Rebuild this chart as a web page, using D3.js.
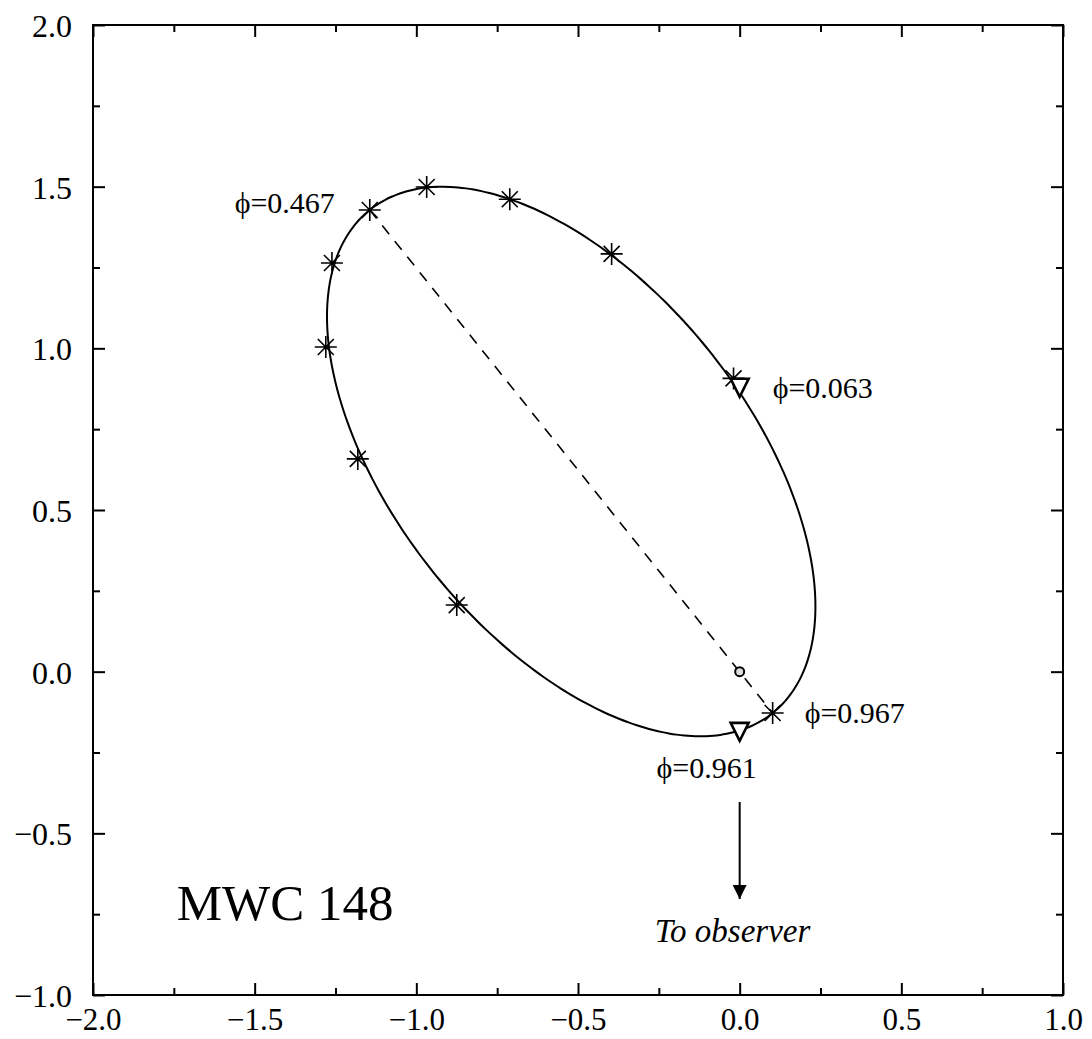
<!DOCTYPE html>
<html><head><meta charset="utf-8">
<script src="https://cdn.jsdelivr.net/npm/d3@7"></script>
<style>body{margin:0;background:#fff}svg{display:block}</style>
</head><body>
<script>
// ---- data ----
const xTickValues = [-2.0, -1.5, -1.0, -0.5, 0.0, 0.5, 1.0];
const yTickValues = [-1.0, -0.5, 0.0, 0.5, 1.0, 1.5, 2.0];
const obsX = [-1.144, -0.968, -0.711, -0.396, -0.019, -1.261, -1.280, -1.181, -0.875, 0.102];
const obsY = [1.428, 1.499, 1.461, 1.292, 0.907, 1.264, 1.004, 0.658, 0.206, -0.128];
const triX = [0.0, 0.0];
const triY = [0.881, -0.183];
const focus = [0.0, 0.0];
const apastron = [-1.144, 1.428];
const periastron = [0.102, -0.128];
const semiMinor = 0.547;
const phaseLabels = ["ϕ=0.467", "ϕ=0.063", "ϕ=0.967", "ϕ=0.961"];
const phaseLabelX = [-1.252, 0.102, 0.201, -0.257];
const phaseLabelY = [1.418, 0.847, -0.159, -0.329];
const arrowFrom = [0.0, -0.403];
const arrowTo = [0.0, -0.703];
const title = "MWC 148";
const observerText = "To observer";

// ---- chart ----
const W = 1092, H = 1039;
const x = d3.scaleLinear().domain([-2, 1]).range([93, 1063]);
const y = d3.scaleLinear().domain([-1, 2]).range([995, 25]);
const svg = d3.select("body").append("svg").attr("width", W).attr("height", H);
const font = "'Liberation Serif','Times New Roman',serif";

// frame
svg.append("rect").attr("x", x(-2)).attr("y", y(2)).attr("width", x(1) - x(-2)).attr("height", y(-1) - y(2))
  .attr("fill", "none").attr("stroke", "#000").attr("stroke-width", 2);

// ticks
const minor = d3.range(-1.75, 1, 0.5);
const minorY = d3.range(-0.75, 2, 0.5);
const fmt = v => (v < 0 ? "\u2212" : "") + Math.abs(v).toFixed(1);
const axB = d3.axisBottom(x).tickValues(xTickValues).tickSize(-12).tickFormat(fmt).tickPadding(13);
const gB = svg.append("g").attr("transform", `translate(0,${y(-1)})`).call(axB);
const axL = d3.axisLeft(y).tickValues(yTickValues).tickSize(-12).tickFormat(fmt).tickPadding(21);
const gL = svg.append("g").attr("transform", `translate(${x(-2)},0)`).call(axL);
[gB, gL].forEach(g => {
  g.select(".domain").remove();
  g.selectAll("line").attr("stroke", "#000").attr("stroke-width", 2);
  g.selectAll("text").attr("font-family", font).attr("font-size", 32).attr("fill", "#000");
});
gL.selectAll("text").attr("dy", "0.36em");
gB.selectAll("text").attr("font-size", 31).attr("dy", "0.72em");
const tickStyle = g => { g.select(".domain").remove(); g.selectAll("line").attr("stroke", "#000").attr("stroke-width", 2); };
svg.append("g").attr("transform", `translate(0,${y(-1)})`).call(d3.axisBottom(x).tickValues(minor).tickSize(-7).tickFormat("")).call(tickStyle);
svg.append("g").attr("transform", `translate(0,${y(2)})`).call(d3.axisTop(x).tickValues(xTickValues).tickSize(-12).tickFormat("")).call(tickStyle);
svg.append("g").attr("transform", `translate(0,${y(2)})`).call(d3.axisTop(x).tickValues(minor).tickSize(-7).tickFormat("")).call(tickStyle);
svg.append("g").attr("transform", `translate(${x(-2)},0)`).call(d3.axisLeft(y).tickValues(minorY).tickSize(-7).tickFormat("")).call(tickStyle);
svg.append("g").attr("transform", `translate(${x(1)},0)`).call(d3.axisRight(y).tickValues(yTickValues).tickSize(-12).tickFormat("")).call(tickStyle);
svg.append("g").attr("transform", `translate(${x(1)},0)`).call(d3.axisRight(y).tickValues(minorY).tickSize(-7).tickFormat("")).call(tickStyle);

// orbit ellipse
const cx = (apastron[0] + periastron[0]) / 2, cy = (apastron[1] + periastron[1]) / 2;
const dx = periastron[0] - apastron[0], dy = periastron[1] - apastron[1];
const a = Math.hypot(dx, dy) / 2;
const ux = dx / (2 * a), uy = dy / (2 * a), vx = -uy, vy = ux;
const ts = d3.range(0, 361, 2).map(d => d * Math.PI / 180);
const orbit = ts.map(t => [cx + a * Math.cos(t) * ux + semiMinor * Math.sin(t) * vx,
                            cy + a * Math.cos(t) * uy + semiMinor * Math.sin(t) * vy]);
svg.append("path").datum(orbit)
  .attr("d", d3.line().x(d => x(d[0])).y(d => y(d[1])).curve(d3.curveCardinalClosed))
  .attr("fill", "none").attr("stroke", "#000").attr("stroke-width", 2);

// major axis dashed
svg.append("line").attr("x1", x(apastron[0])).attr("y1", y(apastron[1]))
  .attr("x2", x(periastron[0])).attr("y2", y(periastron[1]))
  .attr("stroke", "#000").attr("stroke-width", 1.6).attr("stroke-dasharray", "11,9");

// asterisks
const r = 11, rd = 8;
const star = `M${-r},0L${r},0M0,${-r}L0,${r}M${-rd},${-rd}L${rd},${rd}M${-rd},${rd}L${rd},${-rd}`;
svg.append("g").selectAll("path").data(obsX).join("path")
  .attr("transform", (d, i) => `translate(${x(d)},${y(obsY[i])})`)
  .attr("d", star).attr("stroke", "#000").attr("stroke-width", 1.6).attr("fill", "none");

// triangles
svg.append("g").selectAll("path").data(triX).join("path")
  .attr("transform", (d, i) => `translate(${x(d)},${y(triY[i])})`)
  .attr("d", "M-9,-8L9,-8L0,10Z").attr("stroke", "#000").attr("stroke-width", 2.6).attr("fill", "#fff");

// focus
svg.append("circle").attr("cx", x(focus[0])).attr("cy", y(focus[1])).attr("r", 4.5)
  .attr("fill", "#ddd").attr("stroke", "#000").attr("stroke-width", 2);

// phase labels
svg.append("g").selectAll("text").data(phaseLabels).join("text")
  .attr("x", (d, i) => x(phaseLabelX[i])).attr("y", (d, i) => y(phaseLabelY[i]))
  .attr("text-anchor", (d, i) => i === 0 ? "end" : "start")
  .attr("font-family", font).attr("font-size", 30).text(d => d);

// arrow
svg.append("defs").append("marker").attr("id", "ah").attr("viewBox", "0 0 14 14")
  .attr("refX", 14).attr("refY", 7).attr("markerWidth", 14).attr("markerHeight", 14)
  .attr("markerUnits", "userSpaceOnUse").attr("orient", "auto")
  .append("path").attr("d", "M0,0L14,7L0,14Z").attr("fill", "#000");
svg.append("line").attr("x1", x(arrowFrom[0])).attr("y1", y(arrowFrom[1]))
  .attr("x2", x(arrowTo[0])).attr("y2", y(arrowTo[1]))
  .attr("stroke", "#000").attr("stroke-width", 2).attr("marker-end", "url(#ah)");

svg.append("text").attr("x", x(-0.022)).attr("y", y(-0.836)).attr("text-anchor", "middle")
  .attr("font-family", font).attr("font-style", "italic").attr("font-size", 33).text(observerText);

svg.append("text").attr("x", x(-1.741)).attr("y", y(-0.768))
  .attr("font-family", font).attr("font-size", 51).text(title);
</script>
</body></html>
